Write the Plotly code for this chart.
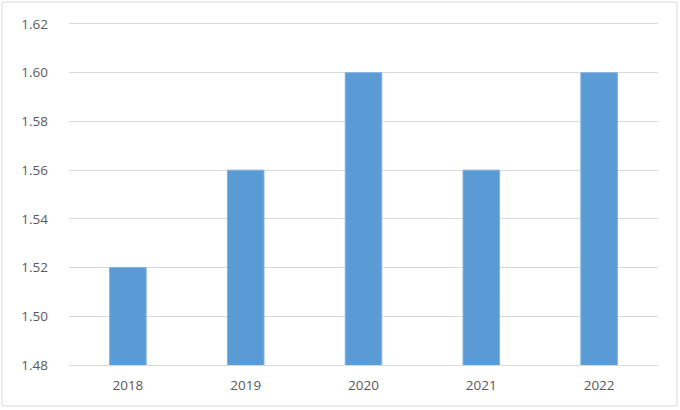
import plotly.graph_objects as go

years = ["2018", "2019", "2020", "2021", "2022"]
values = [1.52, 1.56, 1.60, 1.56, 1.60]

L, R, T, B = 69, 22, 24, 45
W, H = 680, 410
pw, ph = W - L - R, H - T - B

fig = go.Figure(go.Bar(
    x=years, y=values,
    marker=dict(color="#5B9BD5", line=dict(color="#7FB0DE", width=1)),
    width=0.31,
))

fig.update_layout(
    width=W, height=H,
    margin=dict(l=L, r=R, t=T, b=B),
    paper_bgcolor="white", plot_bgcolor="white",
    font=dict(family="Open Sans, Liberation Sans, sans-serif", size=13.5, color="#595959"),
    showlegend=False,
    xaxis=dict(showgrid=False, showline=True, mirror=True, linecolor="#D9D9D9",
               linewidth=1, ticks="", zeroline=False, ticklabelstandoff=8),
    yaxis=dict(range=[1.48, 1.62], dtick=0.02, tick0=1.48, tickformat=".2f",
               showgrid=True, gridcolor="#D9D9D9", gridwidth=1, zeroline=False,
               showline=False, ticks="", ticklabelstandoff=20),
    shapes=[dict(type="rect", xref="paper", yref="paper",
                 x0=(2 - L) / pw, x1=(677 - L) / pw,
                 y0=(H - B - 406) / ph, y1=(H - B - 2) / ph,
                 line=dict(color="#D9D9D9", width=1), fillcolor="rgba(0,0,0,0)",
                 layer="below")],
)

fig.write_html("out.html", config={"displayModeBar": False},
               post_script="document.body.style.margin='0';document.body.style.overflow='hidden';")
